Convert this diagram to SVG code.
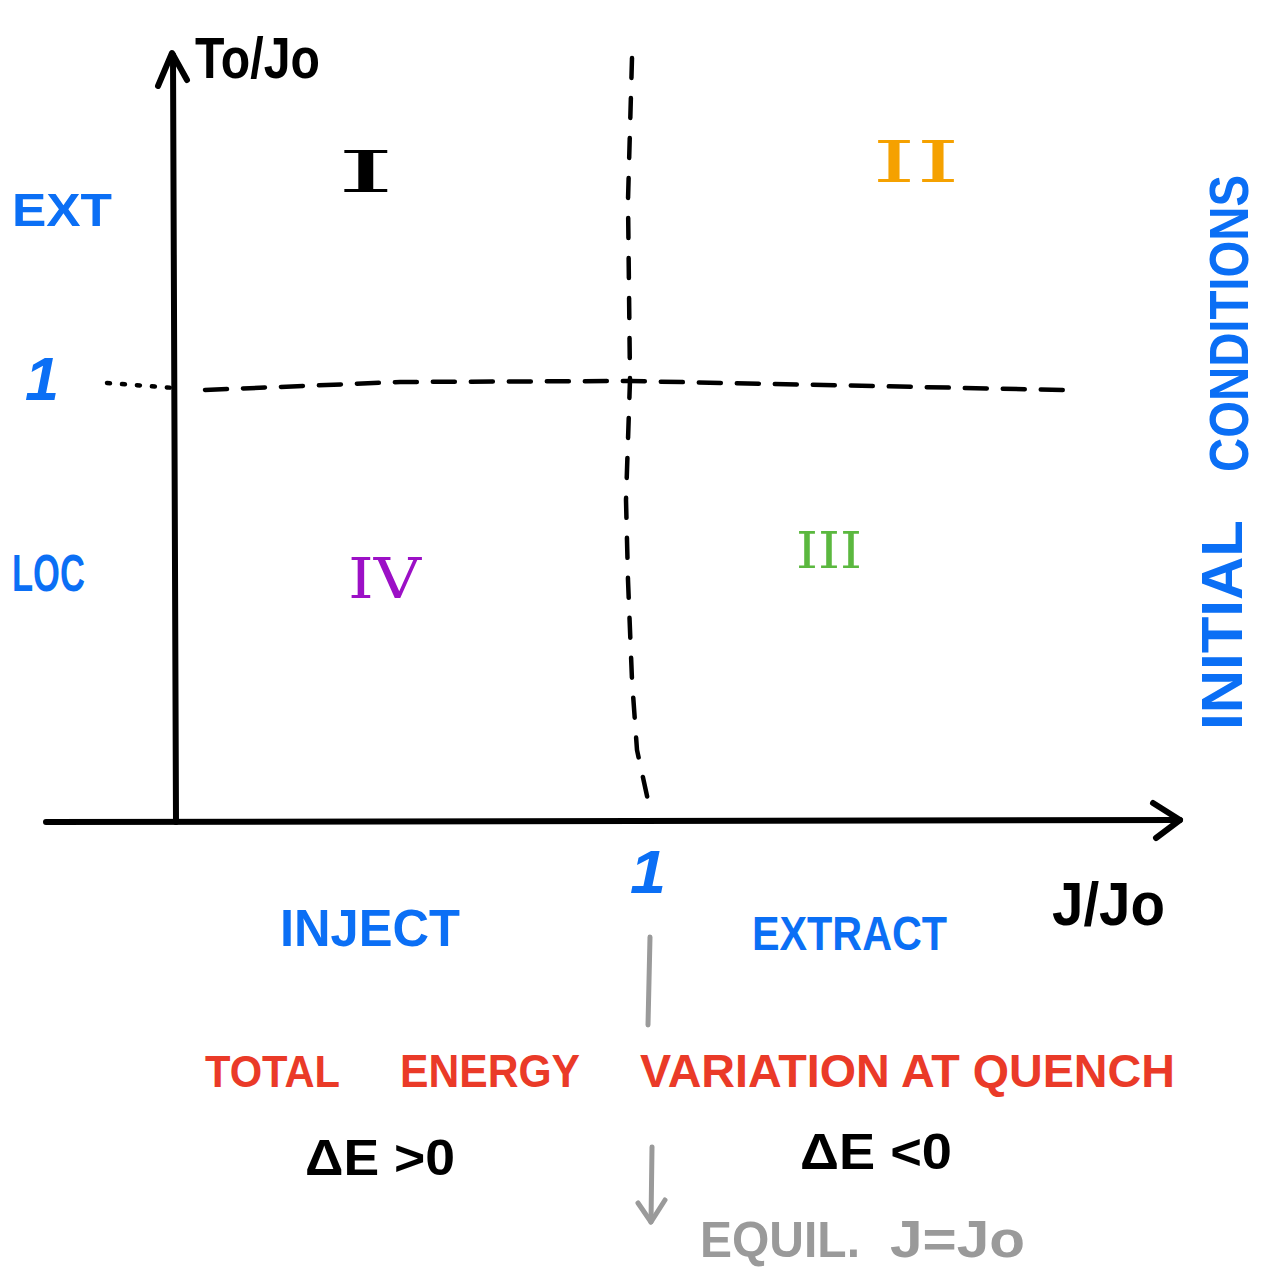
<svg xmlns="http://www.w3.org/2000/svg" width="1261" height="1267" viewBox="0 0 1261 1267">
<style>
text{font-family:"Liberation Sans","DejaVu Sans",sans-serif;font-weight:bold}
text.rom{font-family:"DejaVu Serif","Liberation Serif",serif;font-weight:normal}
.blue{fill:#0b6ff5}.red{fill:#ea3a28}.blk{fill:#000}.gray{fill:#9a9a9a}
.org{fill:#f5a100}.grn{fill:#5bb83f}.pur{fill:#9c10c6}
.axis{stroke:#000;stroke-width:6;fill:none;stroke-linecap:round;stroke-linejoin:round}
.dash{stroke:#000;stroke-width:4.5;fill:none;stroke-linecap:round}
.garrow{stroke:#9a9a9a;stroke-width:5;fill:none;stroke-linecap:round;stroke-linejoin:round}
</style>
<rect width="1261" height="1267" fill="#fff"/>
<g id="connectors">
  <path class="axis" d="M176,822 L173,55"/>
  <path class="axis" d="M158,86 L172,53 L187,80"/>
  <path class="axis" d="M46,822 L1180,820"/>
  <path class="axis" d="M1153,803 L1180,820 L1156,838"/>
  <path class="dash" d="M632,58 L628,200 L630,380 L626,500 L628,580 L632,680 L637,750 L649,805" stroke-dasharray="20 20"/>
  <path class="dash" d="M107,383 L175,388" stroke-dasharray="3 12"/>
  <path class="dash" d="M205,390 L400,382 L630,381 L1065,390" stroke-dasharray="22 16"/>
  <path class="garrow" d="M650,937 L648,1025"/>
  <path class="garrow" d="M652,1147 L651,1222"/>
  <path class="garrow" d="M638,1203 L651,1222 L665,1200"/>
</g>
<g id="y-label"><text class="blk" x="195" y="78" font-size="58" textLength="125" lengthAdjust="spacingAndGlyphs">To/Jo</text></g>
<g id="x-label"><text class="blk" x="1052" y="925" font-size="62" textLength="113" lengthAdjust="spacingAndGlyphs">J/Jo</text></g>
<g id="region-I"><text class="rom blk" transform="translate(336,192) scale(2.6,1)" font-size="58">I</text></g>
<g id="region-II"><text class="rom org" x="872" y="182" font-size="58" textLength="88" lengthAdjust="spacingAndGlyphs">II</text></g>
<g id="region-III"><text class="rom grn" x="796" y="568" font-size="50" textLength="66" lengthAdjust="spacingAndGlyphs">III</text></g>
<g id="region-IV"><text class="rom pur" x="348" y="598" font-size="56" textLength="73" lengthAdjust="spacingAndGlyphs">IV</text></g>
<g id="ext"><text class="blue" x="12" y="226" font-size="46" textLength="100" lengthAdjust="spacingAndGlyphs">EXT</text></g>
<g id="one-y"><text class="blue" x="25" y="400" font-size="62" textLength="34" lengthAdjust="spacingAndGlyphs" font-style="italic">1</text></g>
<g id="loc"><text class="blue" x="12" y="591" font-size="52" textLength="73" lengthAdjust="spacingAndGlyphs">LOC</text></g>
<g id="initial-conditions">
  <text class="blue" transform="translate(1242,730) rotate(-90)" font-size="58" textLength="210" lengthAdjust="spacingAndGlyphs">INITIAL</text>
  <text class="blue" transform="translate(1248,472) rotate(-90)" font-size="56" textLength="297" lengthAdjust="spacingAndGlyphs">CONDITIONS</text>
</g>
<g id="one-x"><text class="blue" x="630" y="893" font-size="62" textLength="36" lengthAdjust="spacingAndGlyphs" font-style="italic">1</text></g>
<g id="inject"><text class="blue" x="280" y="946" font-size="52" textLength="180" lengthAdjust="spacingAndGlyphs">INJECT</text></g>
<g id="extract"><text class="blue" x="752" y="950" font-size="48" textLength="195" lengthAdjust="spacingAndGlyphs">EXTRACT</text></g>
<g id="total-energy">
  <text class="red" x="205" y="1087" font-size="44" textLength="135" lengthAdjust="spacingAndGlyphs">TOTAL</text>
  <text class="red" x="400" y="1087" font-size="46" textLength="180" lengthAdjust="spacingAndGlyphs">ENERGY</text>
  <text class="red" x="640" y="1087" font-size="46" textLength="535" lengthAdjust="spacingAndGlyphs">VARIATION AT QUENCH</text>
</g>
<g id="de-pos"><text class="blk" x="305" y="1175" font-size="50" textLength="150" lengthAdjust="spacingAndGlyphs">ΔE &gt;0</text></g>
<g id="de-neg"><text class="blk" x="800" y="1169" font-size="50" textLength="152" lengthAdjust="spacingAndGlyphs">ΔE &lt;0</text></g>
<g id="equil">
  <text class="gray" x="700" y="1257" font-size="50" textLength="160" lengthAdjust="spacingAndGlyphs">EQUIL.</text>
  <text class="gray" x="890" y="1257" font-size="52" textLength="135" lengthAdjust="spacingAndGlyphs">J=Jo</text>
</g>
</svg>
